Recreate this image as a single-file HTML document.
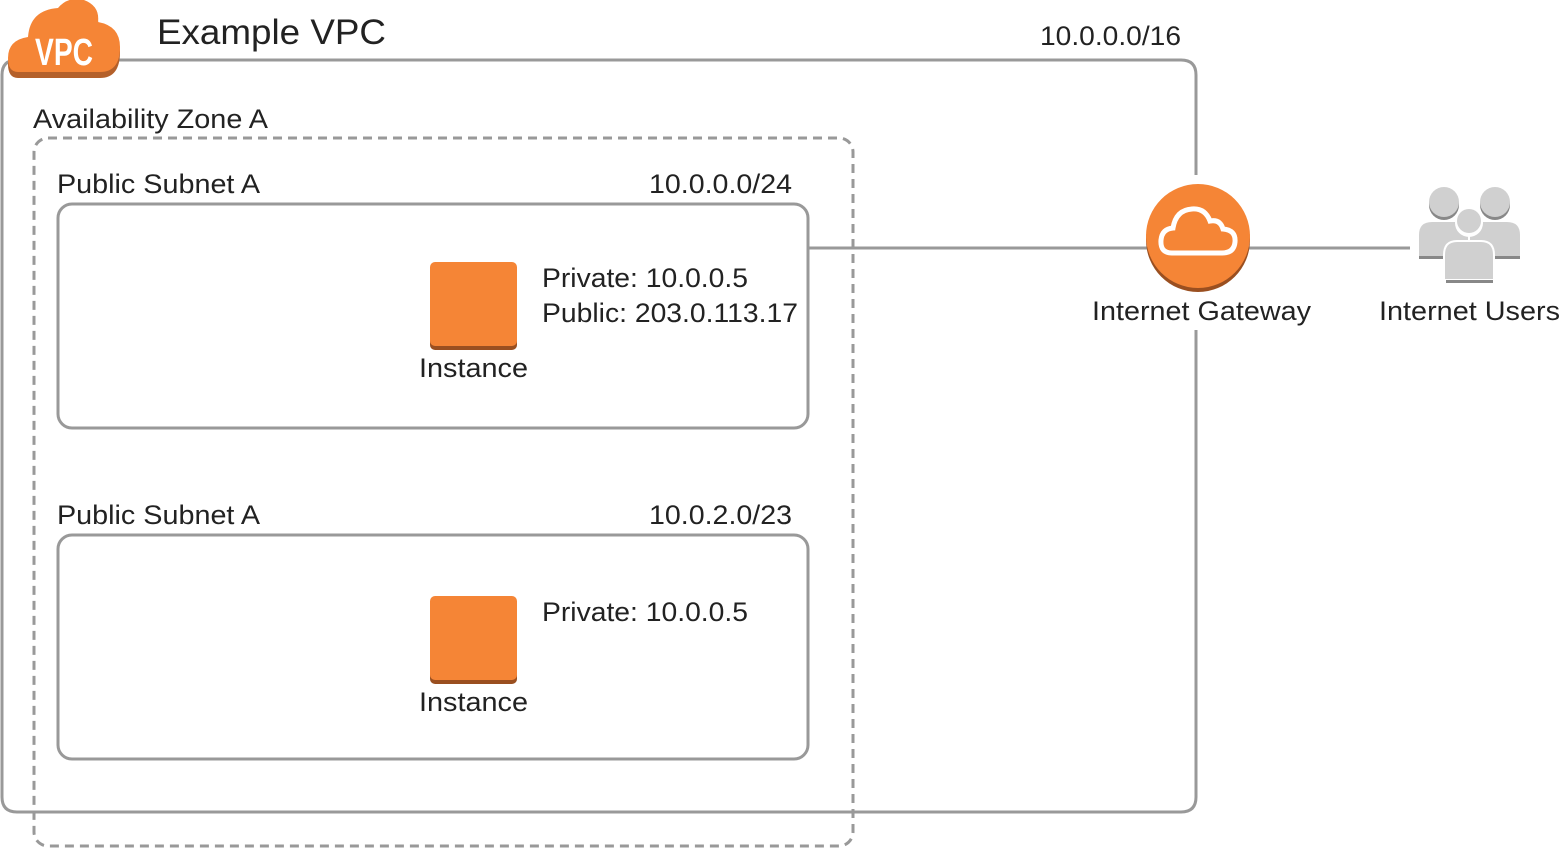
<!DOCTYPE html>
<html><head><style>body{margin:0;background:#fff}svg{display:block}text{font-family:"Liberation Sans",sans-serif;fill:#222}</style></head>
<body>
<svg width="1561" height="848" viewBox="0 0 1561 848">
<g fill="none" stroke="#999" stroke-width="3">
<path d="M20 60 H1181 Q1196 60 1196 75 V175 M1196 330 V797 Q1196 812 1181 812 H17 Q2 812 2 797 V75 Q2 60 17 60"/>
<rect x="34" y="138" width="819" height="708" rx="14" stroke-dasharray="9 6"/>
<rect x="58" y="204" width="750" height="224" rx="14"/>
<rect x="58" y="535" width="750" height="224" rx="14"/>
<line x1="808" y1="248" x2="1410" y2="248"/>
</g>
<g fill="#b4602a"><path d="M18 78 Q8 78 8 64 Q8 45 28 42 Q30 14 58 12 Q68 0 84 4 Q100 10 98 26 Q120 30 120 52 Q120 78 100 78 Z"/></g>
<g fill="#f58536"><path d="M18 72 Q8 72 8 58 Q8 40 28 37 Q30 10 58 8 Q68 -4 84 0 Q100 6 98 22 Q120 26 120 47 Q120 72 100 72 Z"/></g>
<text x="64" y="65" font-size="38" font-weight="bold" style="fill:#fff" text-anchor="middle" textLength="58" lengthAdjust="spacingAndGlyphs">VPC</text>
<text x="157" y="44" font-size="35" textLength="229" lengthAdjust="spacingAndGlyphs">Example VPC</text>
<text x="1040" y="45" font-size="27" textLength="141" lengthAdjust="spacingAndGlyphs">10.0.0.0/16</text>
<text x="33" y="128" font-size="27" textLength="235" lengthAdjust="spacingAndGlyphs">Availability Zone A</text>
<text x="57" y="193" font-size="27" textLength="203" lengthAdjust="spacingAndGlyphs">Public Subnet A</text>
<text x="649" y="193" font-size="27" textLength="143" lengthAdjust="spacingAndGlyphs">10.0.0.0/24</text>
<text x="57" y="524" font-size="27" textLength="203" lengthAdjust="spacingAndGlyphs">Public Subnet A</text>
<text x="649" y="524" font-size="27" textLength="143" lengthAdjust="spacingAndGlyphs">10.0.2.0/23</text>
<rect x="430" y="265" width="87" height="85" rx="5" fill="#9a4f20"/>
<rect x="430" y="262" width="87" height="84" rx="5" fill="#f58536"/>
<rect x="430" y="599" width="87" height="85" rx="5" fill="#9a4f20"/>
<rect x="430" y="596" width="87" height="84" rx="5" fill="#f58536"/>
<text x="419" y="377" font-size="27" textLength="109" lengthAdjust="spacingAndGlyphs">Instance</text>
<text x="419" y="711" font-size="27" textLength="109" lengthAdjust="spacingAndGlyphs">Instance</text>
<text x="542" y="287" font-size="27" textLength="206" lengthAdjust="spacingAndGlyphs">Private: 10.0.0.5</text>
<text x="542" y="322" font-size="27" textLength="256" lengthAdjust="spacingAndGlyphs">Public: 203.0.113.17</text>
<text x="542" y="621" font-size="27" textLength="206" lengthAdjust="spacingAndGlyphs">Private: 10.0.0.5</text>
<circle cx="1198" cy="240" r="52" fill="#9a4f20"/>
<circle cx="1198" cy="236" r="52" fill="#f58536"/>
<path d="M1172 253 Q1160 253 1161 240 Q1162 229 1173 228 Q1176 210 1192 209 Q1205 208 1210 221 Q1220 219 1223 229 Q1236 230 1235 242 Q1234 253 1222 253 Z" fill="none" stroke="#fff" stroke-width="5"/>
<text x="1092" y="320" font-size="27" textLength="219" lengthAdjust="spacingAndGlyphs">Internet Gateway</text>
<g fill="#d0d0d0">
<circle cx="1444" cy="205" r="15" fill="#888"/><circle cx="1444" cy="202" r="15"/>
<circle cx="1495" cy="205" r="15" fill="#888"/><circle cx="1495" cy="202" r="15"/>
<path d="M1419 256 V235 Q1419 222 1432 222 H1456 Q1466 222 1468 232 V256 Z"/>
<path d="M1470 256 V232 Q1472 222 1482 222 H1507 Q1520 222 1520 235 V256 Z"/>
<rect x="1419" y="256" width="101" height="3" fill="#888"/>
<circle cx="1469" cy="223" r="14" fill="#fff"/>
<circle cx="1469" cy="221" r="12"/>
<path d="M1444 280 V255 Q1444 241 1457 241 H1481 Q1494 241 1494 255 V280 Z" stroke="#fff" stroke-width="2"/>
<rect x="1446" y="280" width="47" height="3" fill="#888"/>
</g>
<text x="1379" y="320" font-size="27" textLength="181" lengthAdjust="spacingAndGlyphs">Internet Users</text>
</svg>
</body></html>
